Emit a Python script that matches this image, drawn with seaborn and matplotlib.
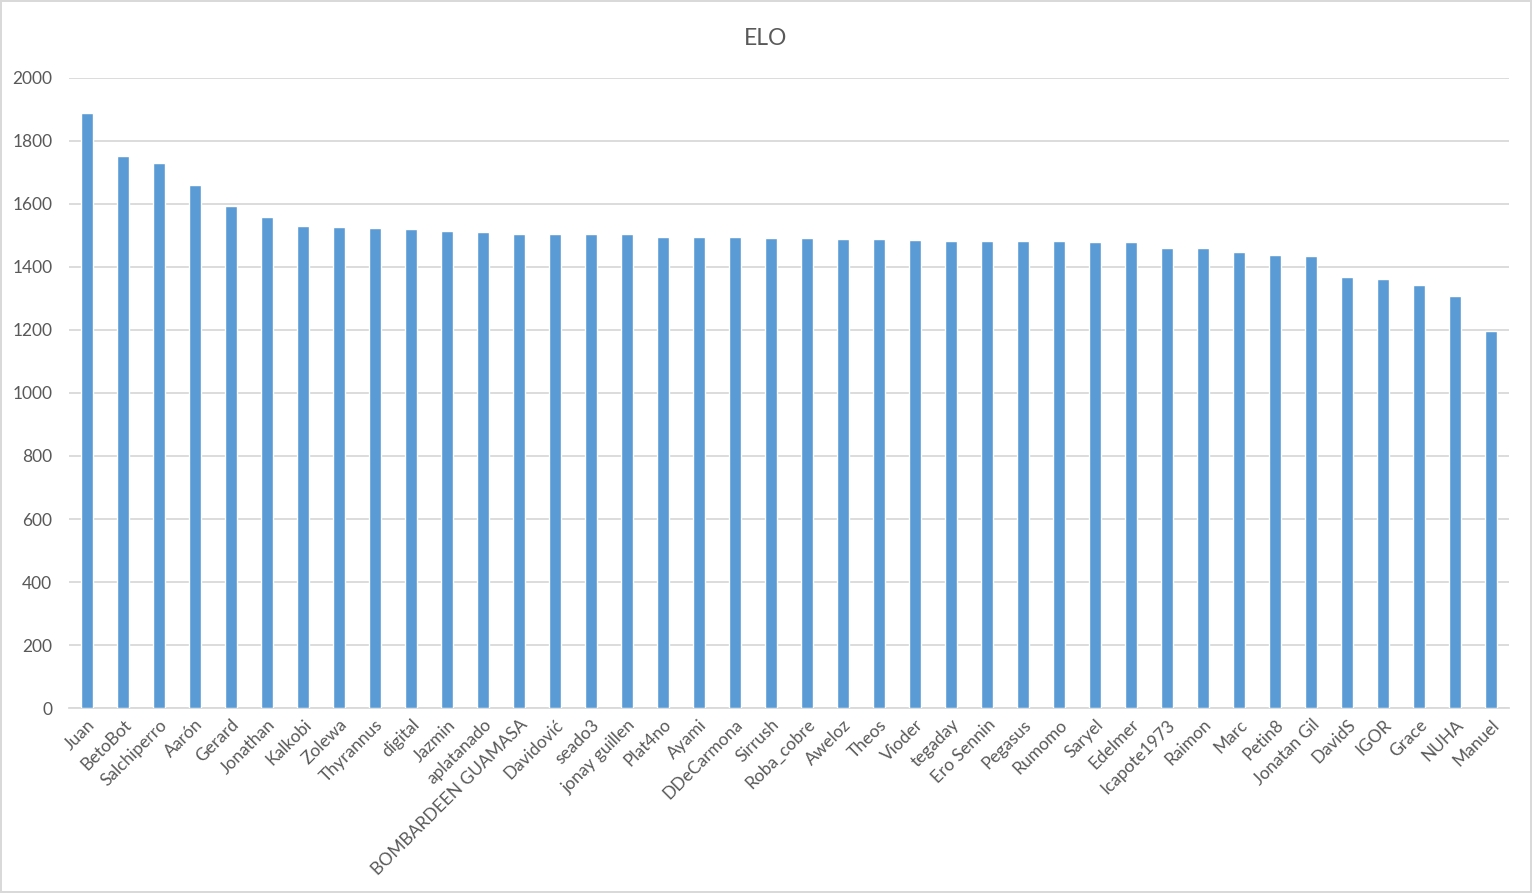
import matplotlib
matplotlib.use('Agg')
import matplotlib.pyplot as plt
import seaborn as sns
import pandas as pd

players = ['Juan', 'BetoBot', 'Salchiperro', 'Aarón', 'Gerard', 'Jonathan', 'Kalkobi', 'Zolewa',
           'Thyrannus', 'digital', 'Jazmin', 'aplatanado', 'BOMBARDEEN GUAMASA', 'Davidović',
           'seado3', 'jonay guillen', 'Plat4no', 'Ayami', 'DDeCarmona', 'Sirrush', 'Roba_cobre',
           'Aweloz', 'Theos', 'Vioder', 'tegaday', 'Ero Sennin', 'Pegasus', 'Rumomo', 'Saryel',
           'Edelmer', 'Icapote1973', 'Raimon', 'Marc', 'Petin8', 'Jonatan Gil', 'DavidS', 'IGOR',
           'Grace', 'NUHA', 'Manuel']
elo = [1887, 1752, 1730, 1660, 1594, 1559, 1530, 1527, 1524, 1521, 1514, 1511, 1505, 1505,
       1505, 1505, 1495, 1495, 1495, 1492, 1492, 1489, 1489, 1486, 1483, 1483, 1483, 1483, 1479,
       1479, 1460, 1460, 1448, 1438, 1435, 1368, 1362, 1343, 1308, 1197]
y_ticks = list(range(0, 2001, 200))

df = pd.DataFrame({'player': players, 'elo': elo})

sns.set_style('white')
plt.rcParams['font.family'] = ['Lato', 'DejaVu Sans']

fig = plt.figure(figsize=(15.32, 8.93), dpi=100)
fig.patch.set_edgecolor('#d9d9d9')
fig.patch.set_linewidth(1.5)
ax = fig.add_axes([0.045, 0.207, 0.94, 0.706])

sns.barplot(data=df, x='player', y='elo', color='#5b9bd5', saturation=1, width=0.31, ax=ax, zorder=3)

ax.set_ylim(0, 2000)
ax.set_xlim(-0.5, len(players) - 0.5)
ax.set_yticks(y_ticks)
ax.yaxis.grid(True, color='#d9d9d9', linewidth=1.3, zorder=0)
ax.set_axisbelow(True)
for s in ['left', 'right', 'top']:
    ax.spines[s].set_visible(False)
ax.spines['bottom'].set_color('#d9d9d9')
ax.spines['bottom'].set_linewidth(1.3)
ax.tick_params(axis='both', length=0, colors='#595959', labelsize=12.5)
ax.tick_params(axis='y', pad=12)
ax.tick_params(axis='x', pad=6)
plt.setp(ax.get_xticklabels(), rotation=45, ha='right', rotation_mode='anchor')
ax.set(xlabel='', ylabel='')
# title is centred on the whole figure, not the axes
fig.suptitle('ELO', x=0.5, y=0.957, va='center', fontsize=16.5, color='#595959')

fig.savefig('out.png', dpi=100)
